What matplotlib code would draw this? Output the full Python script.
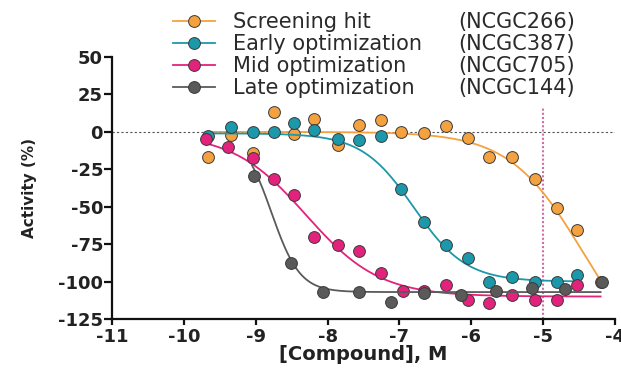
import numpy as np
import matplotlib
matplotlib.use("Agg")
import matplotlib.pyplot as plt
from matplotlib.lines import Line2D

plt.rcParams['font.family'] = ['DejaVu Sans']

# measured points, log10 [compound] (M) vs activity (%)
screen_x = [-9.67, -9.35, -9.04, -8.75, -8.47, -8.19, -7.86, -7.56, -7.26, -6.98,
            -6.66, -6.35, -6.04, -5.75, -5.44, -5.12, -4.81, -4.53, -4.20]
screen_y = [-16.7, -2.0, -14.0, 13.0, -1.5, 8.7, -8.7, 4.7, 8.0, 0.0,
            -0.7, 4.0, -4.0, -16.5, -17.0, -31.5, -51.0, -65.5, -100.0]

early_x = [-9.67, -9.35, -9.04, -8.75, -8.47, -8.19, -7.86, -7.56, -7.26, -6.98,
           -6.66, -6.35, -6.04, -5.75, -5.44, -5.12, -4.81, -4.53]
early_y = [-2.5, 3.5, 0.0, 0.0, 6.0, 1.3, -4.7, -5.3, -2.7, -38.0,
           -60.0, -75.5, -84.0, -100.0, -97.0, -100.0, -100.0, -95.6]

mid_x = [-9.69, -9.38, -9.04, -8.75, -8.47, -8.19, -7.86, -7.56, -7.26, -6.95,
         -6.66, -6.35, -6.04, -5.75, -5.44, -5.12, -4.81, -4.53]
mid_y = [-4.7, -10.0, -17.6, -31.7, -42.0, -70.0, -75.5, -79.5, -94.0, -106.0,
         -106.0, -102.0, -112.0, -114.0, -109.0, -112.0, -112.0, -102.0]

late_x = [-9.03, -8.51, -8.07, -7.56, -7.12, -6.66, -6.14, -5.65, -5.16, -4.70, -4.18]
late_y = [-29.4, -87.8, -107.0, -107.0, -113.6, -107.6, -109.0, -106.0, -104.0, -105.0, -100.0]

# four-parameter logistic fits: top, bottom, logIC50, hill slope, x range
fits = {'screen': (0.0, -160.0, -4.45, 0.85, -9.70, -4.20),
        'early': (-1.0, -100.0, -6.80, 1.20, -9.70, -4.50),
        'mid': (-1.0, -110.0, -8.30, 0.85, -9.70, -4.20),
        'late': (-1.0, -107.0, -8.78, 2.20, -9.05, -4.20)}

names = ["Screening hit", "Early optimization", "Mid optimization", "Late optimization"]
codes = ["(NCGC266)", "(NCGC387)", "(NCGC705)", "(NCGC144)"]
colors = ['#F4A140', '#1C98AB', '#E2227C', '#5A5A5A']

x_ticks = [-11, -10, -9, -8, -7, -6, -5, -4]
y_ticks = [50, 25, 0, -25, -50, -75, -100, -125]
ic_marker = -5      # vertical reference line
ic_marker_top = 16


def hill(x, top, bottom, logic50, h):
    "Four parameter logistic response."
    return bottom + (top - bottom) / (1 + 10 ** ((x - logic50) * h))


fig = plt.figure(figsize=(6.21, 3.70), dpi=100)
ax = fig.add_axes([0.1804, 0.1378, 0.8099, 0.7081])

ax.axhline(0, color='#555555', lw=0.8, ls=(0, (2, 2)), zorder=1)
ax.plot([ic_marker, ic_marker], [y_ticks[-1], ic_marker_top],
        color='#cf6fa8', lw=1.5, ls=(0, (1, 1)), zorder=1)

series = [('screen', screen_x, screen_y), ('early', early_x, early_y),
          ('mid', mid_x, mid_y), ('late', late_x, late_y)]
for i, (key, xs, ys) in enumerate(series):
    top, bottom, logic50, h, x0, x1 = fits[key]
    xf = np.linspace(x0, x1, 300)
    ax.plot(xf, hill(xf, top, bottom, logic50, h), color=colors[i], lw=1.3,
            zorder=2 + 2 * i)
    ax.plot(xs, ys, 'o', ms=8.5, mfc=colors[i], mec='#3a3a3a', mew=0.7,
            zorder=3 + 2 * i)

ax.set_xlim(-11, -4)
ax.set_ylim(-125, 50)
ax.set_xticks(x_ticks)
ax.set_yticks(y_ticks)
ax.set_xticklabels([str(t) for t in x_ticks])
ax.set_yticklabels([str(t) for t in y_ticks])
for s in ['top', 'right']:
    ax.spines[s].set_visible(False)
for s in ['left', 'bottom']:
    ax.spines[s].set_linewidth(1.6)
    ax.spines[s].set_color('#111111')
ax.tick_params(axis='both', direction='out', length=5.5, width=1.6,
               color='#111111', labelsize=13)
ax.tick_params(axis='y', pad=1)
ax.tick_params(axis='x', pad=2, length=4.5)
for lab in ax.get_xticklabels() + ax.get_yticklabels():
    lab.set_fontweight('bold')
    lab.set_color('#222222')

ax.set_xlabel("[Compound], M", fontsize=14, fontweight='bold', color='#222222',
              labelpad=-1)
ax.set_ylabel("Activity (%)", fontsize=11, fontweight='bold', color='#222222',
              labelpad=15)

handles = [Line2D([], [], color=c, lw=1.3, marker='o', ms=8.5, mfc=c,
                  mec='#3a3a3a', mew=0.7) for c in colors]
leg1 = fig.legend(handles, names, loc='upper left',
                  bbox_to_anchor=(173 / 621, 0.968), frameon=False,
                  fontsize=15, handlelength=2.0, handletextpad=0.9,
                  labelspacing=0.1, borderpad=0, borderaxespad=0)
blank = [Line2D([], [], ls='none') for c in colors]
leg2 = fig.legend(blank, codes, loc='upper left',
                  bbox_to_anchor=(458 / 621, 0.968), frameon=False,
                  fontsize=15, handlelength=0, handletextpad=0,
                  labelspacing=0.1, borderpad=0, borderaxespad=0)
for t in leg1.get_texts() + leg2.get_texts():
    t.set_color('#2a2a2a')

fig.savefig("out.png", dpi=100)
